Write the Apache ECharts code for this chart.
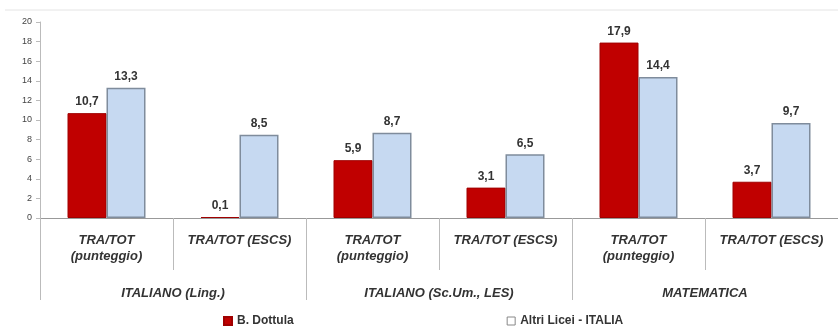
<!DOCTYPE html>
<html><head><meta charset="utf-8">
<script src="https://cdn.jsdelivr.net/npm/echarts@6/dist/echarts.min.js"></script>
<style>html,body{margin:0;padding:0;background:#fff}#c{width:838px;height:326px}</style>
</head><body><div id="c"></div>
<script>
var categories = ['TRA/TOT\n(punteggio)', 'TRA/TOT (ESCS)', 'TRA/TOT\n(punteggio)', 'TRA/TOT (ESCS)', 'TRA/TOT\n(punteggio)', 'TRA/TOT (ESCS)'];
var groups = ['ITALIANO (Ling.)', 'ITALIANO (Sc.Um., LES)', 'MATEMATICA'];
var dottula = [10.7, 0.1, 5.9, 3.1, 17.9, 3.7];
var altri = [13.3, 8.5, 8.7, 6.5, 14.4, 9.7];
var seriesNames = ['B. Dottula', 'Altri Licei - ITALIA'];

var chart = echarts.init(document.getElementById('c'));
var fmt = function (p) { return p.value.toFixed(1).replace('.', ','); };
var labelStyle = { show: true, position: 'top', distance: 5, formatter: fmt, fontFamily: 'Liberation Sans', fontWeight: 'bold', fontSize: 12, color: '#333' };
chart.setOption({
  animation: false,
  textStyle: { fontFamily: 'Liberation Sans' },
  grid: { left: 40, right: 0, top: 22, bottom: 108 },
  graphic: [{ type: 'line', shape: { x1: 5, y1: 10, x2: 838, y2: 10 }, style: { stroke: '#e4e4e4', lineWidth: 1 } }],
  legend: {
    top: 310, left: 218, itemWidth: 8, itemHeight: 8, itemGap: 213,
    textStyle: { fontSize: 12, fontWeight: 'bold', color: '#333' },
    data: [
      { name: seriesNames[0], icon: 'rect' },
      { name: seriesNames[1], icon: 'rect', itemStyle: { color: '#fff', borderColor: '#888', borderWidth: 1 } }
    ]
  },
  xAxis: [
    { type: 'category', data: categories, position: 'bottom',
      axisLine: { lineStyle: { color: '#999' } },
      axisTick: { show: true, interval: 0, length: 52, lineStyle: { color: '#bbb' } },
      axisLabel: { interval: 0, margin: 14, lineHeight: 16, fontSize: 13, fontStyle: 'italic', fontWeight: 'bold', color: '#333' } },
    { type: 'category', data: groups, position: 'bottom',
      axisLine: { show: false },
      axisTick: { show: true, interval: 0, length: 82, lineStyle: { color: '#bbb' } },
      axisLabel: { interval: 0, margin: 68, lineHeight: 14, fontSize: 13, fontStyle: 'italic', fontWeight: 'bold', color: '#333' } }
  ],
  yAxis: {
    type: 'value', min: 0, max: 20, interval: 2,
    axisLine: { show: true, lineStyle: { color: '#bbb' } },
    axisTick: { show: true, length: 4, lineStyle: { color: '#bbb' } },
    splitLine: { show: false },
    axisLabel: { fontSize: 9, color: '#444', margin: 8 }
  },
  series: [
    { name: seriesNames[0], type: 'bar', data: dottula, barWidth: 39, barGap: '0%',
      itemStyle: { color: '#C00000', borderColor: '#A00000', borderWidth: 1 }, label: labelStyle },
    { name: seriesNames[1], type: 'bar', data: altri, barWidth: 39, barGap: '0%',
      itemStyle: { color: '#C6D9F1', borderColor: '#7F8C9C', borderWidth: 1.5 }, label: labelStyle }
  ]
});
</script></body></html>
